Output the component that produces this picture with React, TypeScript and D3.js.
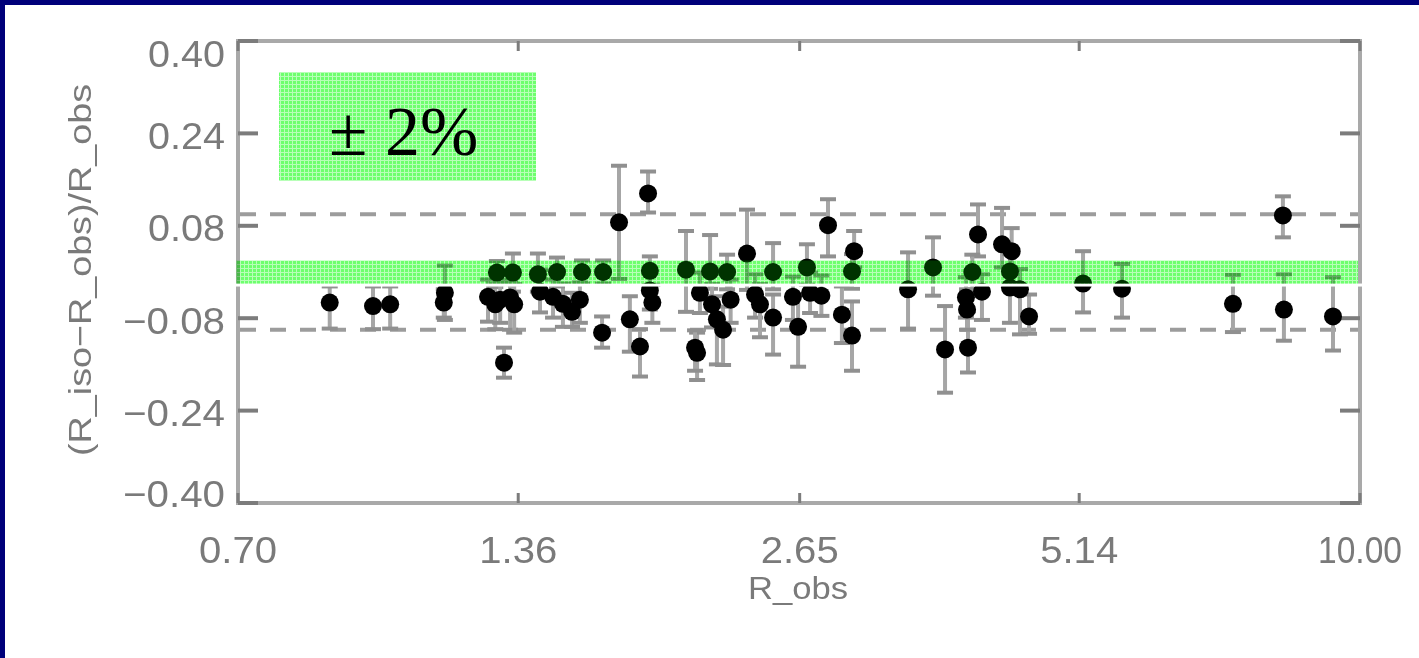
import React from 'react';
import * as d3 from 'd3';

// Observed radius (log axis) and relative deviation of the isochrone radius
const rObs = [
  0.87, 0.964, 1.004, 1.143, 1.14, 1.266, 1.288, 1.303, 1.334, 1.347,
  1.315, 1.343, 1.425, 1.293, 1.432, 1.477, 1.512, 1.545, 1.574, 1.491,
  1.659, 1.663, 1.582, 1.727, 1.85, 1.772, 1.815, 1.869, 1.858, 1.858,
  2.024, 2.143, 2.078, 2.068, 2.092, 2.153, 2.178, 2.21, 2.25, 2.231,
  2.339, 2.384, 2.412, 2.488, 2.488, 2.608, 2.64, 2.696, 2.716, 2.79,
  2.834, 3.015, 3.0, 2.929, 3.0, 3.426, 3.635, 3.74, 3.949, 3.94,
  3.93, 4.044, 3.99, 4.082, 4.281, 4.38, 4.362, 4.362, 4.467, 4.564,
  5.187, 5.689, 7.4, 8.33, 8.35, 9.38,
];
const relDiff = [
  -0.053, -0.059, -0.056, -0.036, -0.053, -0.043, -0.056, -0.048, -0.044, -0.056,
  -0.157, -0.001, -0.004, -0.001, -0.034, -0.043, -0.055, -0.069, -0.048, 0.0,
  -0.105, 0.0, 0.0, 0.086, 0.136, -0.082, -0.129, -0.053, -0.032, 0.002,
  0.004, 0.001, -0.14, -0.131, -0.036, -0.056, -0.082, -0.1, -0.048, 0.0,
  0.032, -0.039, -0.056, -0.079, 0.0, -0.043, -0.095, 0.008, -0.036, -0.041,
  0.081, 0.036, 0.001, -0.074, -0.11, -0.03, 0.008, -0.134, -0.131, -0.065,
  -0.044, 0.065, 0.0, -0.034, 0.048, 0.036, 0.001, -0.027, -0.03, -0.077,
  -0.02, -0.029, -0.055, 0.098, -0.065, -0.077,
];
const errPlus = [
  0.028, 0.034, 0.031, 0.047, 0.023, 0.03, 0.03, 0.03, 0.03, 0.035,
  0.026, 0.033, 0.036, 0.02, 0.038, 0.03, 0.035, 0.033, 0.03, 0.025,
  0.028, 0.02, 0.02, 0.098, 0.038, 0.04, 0.03, 0.031, 0.03, 0.025,
  0.067, 0.063, 0.035, 0.03, 0.035, 0.035, 0.04, 0.04, 0.035, 0.03,
  0.076, 0.035, 0.035, 0.04, 0.05, 0.035, 0.056, 0.04, 0.035, 0.035,
  0.045, 0.035, 0.03, 0.049, 0.059, 0.064, 0.052, 0.075, 0.063, 0.035,
  0.035, 0.052, 0.03, 0.03, 0.063, 0.04, 0.03, 0.035, 0.035, 0.038,
  0.056, 0.043, 0.05, 0.033, 0.061, 0.068,
];
const errMinus = [
  0.045, 0.04, 0.042, 0.047, 0.026, 0.043, 0.043, 0.04, 0.056, 0.049,
  0.026, 0.033, 0.03, 0.02, 0.036, 0.036, 0.04, 0.026, 0.04, 0.025,
  0.026, 0.02, 0.02, 0.098, 0.033, 0.056, 0.052, 0.035, 0.033, 0.025,
  0.073, 0.03, 0.047, 0.04, 0.035, 0.04, 0.078, 0.061, 0.04, 0.03,
  0.063, 0.04, 0.057, 0.064, 0.03, 0.04, 0.069, 0.03, 0.035, 0.035,
  0.054, 0.028, 0.03, 0.049, 0.061, 0.068, 0.049, 0.075, 0.043, 0.035,
  0.035, 0.038, 0.03, 0.049, 0.04, 0.04, 0.03, 0.061, 0.078, 0.03,
  0.05, 0.05, 0.049, 0.038, 0.054, 0.059,
];

const xTicks = [0.7, 1.36, 2.65, 5.14, 10.0];
const yTicks = [0.4, 0.24, 0.08, -0.08, -0.24, -0.4];
const toleranceLines = [0.1, -0.1];
const bandLimits = [-0.02, 0.02];
const bandLabel = '\u00B1 2%';
const xTitle = 'R_obs';
const yTitle = '(R_iso\u2212R_obs)/R_obs';

const fmt = (v: number) => (v < 0 ? '\u2212' + Math.abs(v).toFixed(2) : v.toFixed(2));

export default function App() {
  const W = 1419;
  const H = 658;
  const left = 238;
  const right = 1360;
  const top = 41;
  const bottom = 503;

  const x = d3.scaleLog().domain([0.7, 10]).range([left, right]);
  const y = d3.scaleLinear().domain([-0.4, 0.4]).range([bottom, top]);

  const axisColor = '#a9a9a9';
  const tickColor = '#7c7c7c';
  const labelColor = '#7a7a7a';
  const barColor = '#a6a6a6';
  const capColor = '#909090';
  const sans = "'Liberation Sans', Arial, sans-serif";

  const bandTop = y(bandLimits[1]);
  const bandBottom = y(bandLimits[0]);

  const points = rObs.map((r, i) => ({
    r,
    v: relDiff[i],
    hi: relDiff[i] + errPlus[i],
    lo: relDiff[i] - errMinus[i],
  }));

  // thin green wash plus a multiplied grid texture, so marks underneath stay dark
  const greenPatch = (px: number, py: number, w: number, h: number, key: string) => (
    <g key={key}>
      <rect x={px} y={py} width={w} height={h} fill="#00ff00" fillOpacity={0.2} />
      <rect x={px} y={py} width={w} height={h} fill="url(#greenGrid)" style={{ mixBlendMode: 'multiply' }} />
    </g>
  );

  return (
    <svg
      width={W}
      height={H}
      style={{ position: 'absolute', left: 0, top: 0, display: 'block', background: '#fff' }}
    >
      <defs>
        <pattern id="greenGrid" width={4} height={4} patternUnits="userSpaceOnUse">
          <rect width={4} height={4} fill="#8aff8a" />
          <rect width={1} height={4} fill="#e6ffe6" />
          <rect width={4} height={1} fill="#e6ffe6" />
        </pattern>
      </defs>

      <rect width={W} height={H} fill="#ffffff" />

      {/* dark frame of the slide */}
      <rect x={0} y={0} width={W} height={5} fill="#00007a" />
      <rect x={0} y={0} width={5} height={H} fill="#00007a" />

      {/* plot frame */}
      <rect
        x={left}
        y={top}
        width={right - left}
        height={bottom - top}
        fill="none"
        stroke={axisColor}
        strokeWidth={4}
      />

      {/* y ticks on both sides */}
      {yTicks.map((t) => (
        <g key={'yt' + t}>
          <line x1={left} x2={left + 20} y1={y(t)} y2={y(t)} stroke={tickColor} strokeWidth={4} />
          <line x1={right - 20} x2={right} y1={y(t)} y2={y(t)} stroke={tickColor} strokeWidth={4} />
        </g>
      ))}
      {/* x ticks on top and bottom */}
      {xTicks.map((t) => (
        <g key={'xt' + t}>
          <line x1={x(t)} x2={x(t)} y1={bottom} y2={bottom - 10} stroke={tickColor} strokeWidth={3} />
          <line x1={x(t)} x2={x(t)} y1={top} y2={top + 10} stroke={tickColor} strokeWidth={3} />
        </g>
      ))}

      {/* +-10% reference lines */}
      {toleranceLines.map((v) => (
        <line
          key={'tol' + v}
          x1={left + 2}
          x2={right - 2}
          y1={y(v)}
          y2={y(v)}
          stroke="#9c9c9c"
          strokeWidth={4}
          strokeDasharray="16 14"
        />
      ))}

      {/* error bars */}
      {points.map((p, i) => (
        <g key={'e' + i}>
          <line x1={x(p.r)} x2={x(p.r)} y1={y(p.hi)} y2={y(p.lo)} stroke={barColor} strokeWidth={4} />
          <line x1={x(p.r) - 8} x2={x(p.r) + 8} y1={y(p.hi)} y2={y(p.hi)} stroke={capColor} strokeWidth={4} />
          <line x1={x(p.r) - 8} x2={x(p.r) + 8} y1={y(p.lo)} y2={y(p.lo)} stroke={capColor} strokeWidth={4} />
        </g>
      ))}

      {/* data points */}
      {points.map((p, i) => (
        <circle key={'p' + i} cx={x(p.r)} cy={y(p.v)} r={9} fill="#000" />
      ))}

      {/* +-2% band */}
      <rect x={left - 2} y={bandBottom} width={right - left + 4} height={3} fill="#fff" />
      {greenPatch(left - 2, bandTop, right - left, bandBottom - bandTop, 'band')}

      {/* band legend */}
      {greenPatch(279, 72, 257, 109, 'legendBox')}
      <text x={329} y={155} fontFamily="'Liberation Serif', 'Times New Roman', serif" fontSize={70} fill="#000">
        {bandLabel}
      </text>

      {/* y tick labels */}
      {yTicks.map((t) => {
        const cy = Math.min(Math.max(y(t) + 2, 53.5), 493);
        return (
          <text
            key={'yl' + t}
            x={225}
            y={cy + 13.5}
            textAnchor="end"
            fontFamily={sans}
            fontSize={37}
            fill={labelColor}
            textLength={t < 0 ? 102 : 77}
            lengthAdjust="spacingAndGlyphs"
          >
            {fmt(t)}
          </text>
        );
      })}

      {/* x tick labels */}
      {xTicks.map((t) => (
        <text
          key={'xl' + t}
          x={x(t)}
          y={563}
          textAnchor="middle"
          fontFamily={sans}
          fontSize={37}
          fill={labelColor}
          textLength={t >= 10 ? 84 : 78}
          lengthAdjust="spacingAndGlyphs"
        >
          {fmt(t)}
        </text>
      ))}

      {/* axis titles */}
      <text
        x={798}
        y={599}
        textAnchor="middle"
        fontFamily={sans}
        fontSize={32}
        fill={labelColor}
        textLength={100}
        lengthAdjust="spacingAndGlyphs"
      >
        {xTitle}
      </text>
      <text
        transform="translate(91,270) rotate(-90)"
        textAnchor="middle"
        fontFamily={sans}
        fontSize={32}
        fill={labelColor}
        textLength={372}
        lengthAdjust="spacingAndGlyphs"
      >
        {yTitle}
      </text>
    </svg>
  );
}
